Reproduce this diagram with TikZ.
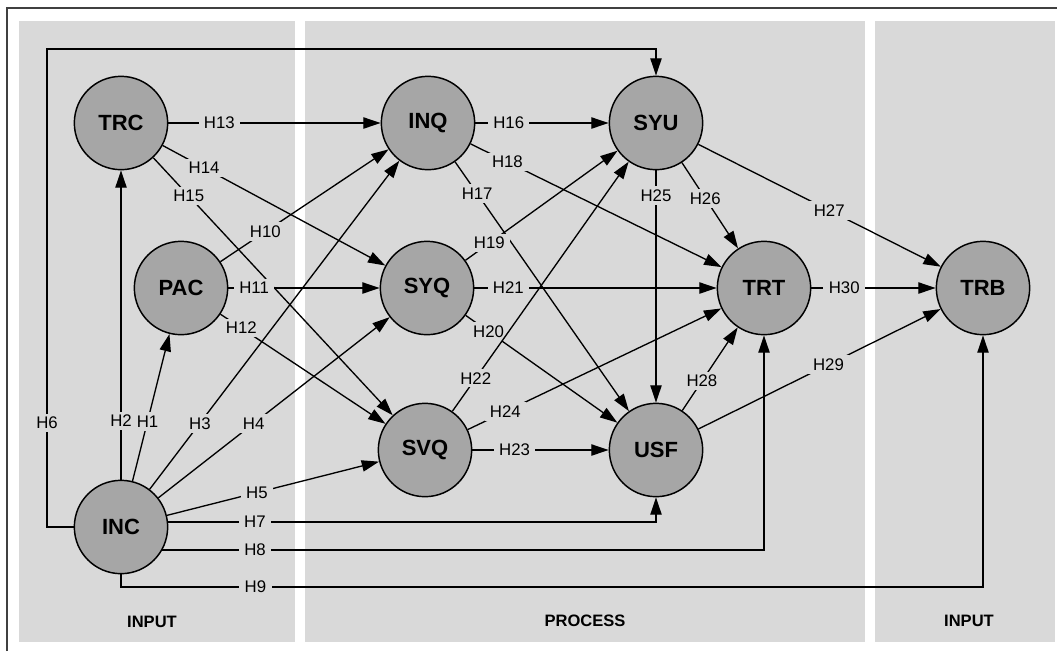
\documentclass[tikz,border=0pt]{standalone}
\usepackage{fontspec}
\setmainfont{Liberation Sans}
\usetikzlibrary{arrows.meta}
\definecolor{panel}{HTML}{D9D9D9}
\definecolor{nodefill}{HTML}{A6A6A6}
\begin{document}
\begin{tikzpicture}[x=0.75pt,y=-0.75pt,
 var/.style={circle,draw=black,line width=1.1pt,fill=nodefill,minimum size=70pt,inner sep=0pt,font=\bfseries\fontsize{16.5}{19}\selectfont},
 hyp/.style={fill=panel,inner xsep=4pt,inner ysep=2.5pt,font=\fontsize{12.6}{15}\selectfont},
 sect/.style={font=\bfseries\fontsize{12.4}{15}\selectfont},
 link/.style={line width=1pt,-{Triangle[length=13pt,width=8.5pt]}},
]
\useasboundingbox (0,0) rectangle (1057,651);
\fill[white] (0,0) rectangle (1057,651);
% panels
\fill[panel] (19,21) rectangle (295,642);
\fill[panel] (305,21) rectangle (865,642);
\fill[panel] (875,21) rectangle (1055,642);
% frame
\draw[line width=0.8pt, black!75] (7,651) -- (7,8) -- (1057,8);
% section labels
\node[sect] (s1) at (152,622) {INPUT};
\node[sect] (s2) at (585,621) {PROCESS};
\node[sect] (s3) at (969,621) {INPUT};
% variables
\node[var] (TRC) at (121,123) {TRC};
\node[var] (PAC) at (181,288) {PAC};
\node[var] (INC) at (121,527) {INC};
\node[var] (INQ) at (428,123) {INQ};
\node[var] (SYQ) at (427,288) {SYQ};
\node[var] (SVQ) at (425,450) {SVQ};
\node[var] (SYU) at (656,123) {SYU};
\node[var] (USF) at (656,450) {USF};
\node[var] (TRT) at (764,288) {TRT};
\node[var] (TRB) at (983,288) {TRB};
\coordinate (c6) at (47,49);
\coordinate (c9) at (983,587);
% hypotheses
\draw[link] (TRC) -- node[hyp,pos=0.24]{H13} (INQ);
\draw[link] (TRC) -- node[hyp,pos=0.186]{H14} (SYQ);
\draw[link] (TRC) -- node[hyp,pos=0.148]{H15} (SVQ);
\draw[link] (PAC) -- node[hyp,pos=0.267]{H10} (INQ);
\draw[link] (PAC) -- node[hyp,pos=0.17]{H11} (SYQ);
\draw[link] (PAC) -- node[hyp,pos=0.126]{H12} (SVQ);
\draw[link] (INC) -- node[hyp,pos=0.405]{H1} (PAC);
\draw[link] (INC) -- node[hyp,pos=0.19]{H2} (TRC);
\draw[link] (INC) -- node[hyp,pos=0.201]{H3} (INQ);
\draw[link] (INC) -- node[hyp,pos=0.412]{H4} (SYQ);
\draw[link] (INC) -- node[hyp,pos=0.424]{H5} (SVQ);
\draw[link] (INC.west) -| node[hyp,pos=0.609]{H6} (c6) -| (SYU.north);
\draw[link] (INC.6) -| node[hyp,pos=0.089]{H7} (USF.south);
\draw[link] (INC.-29.3) -| node[hyp,pos=0.077]{H8} (TRT.south);
\draw[link] (INC.south) |- node[hyp,pos=0.578]{H9} (c9) -- (TRB.south);
\draw[link] (INQ) -- node[hyp,pos=0.25]{H16} (SYU);
\draw[link] (INQ) -- node[hyp,pos=0.147]{H18} (TRT);
\draw[link] (INQ) -- node[hyp,pos=0.127]{H17} (USF);
\draw[link] (SYQ) -- node[hyp,pos=0.157]{H19} (SYU);
\draw[link] (SYQ) -- node[hyp,pos=0.14]{H21} (TRT);
\draw[link] (SYQ) -- node[hyp,pos=0.151]{H20} (USF);
\draw[link] (SVQ) -- node[hyp,pos=0.1325]{H22} (SYU);
\draw[link] (SVQ) -- node[hyp,pos=0.148]{H24} (TRT);
\draw[link] (SVQ) -- node[hyp,pos=0.31]{H23} (USF);
\draw[link] (SYU) -- node[hyp,pos=0.107]{H25} (USF);
\draw[link] (SYU) -- node[hyp,pos=0.415]{H26} (TRT);
\draw[link] (SYU) -- node[hyp,pos=0.54]{H27} (TRB);
\draw[link] (USF) -- node[hyp,pos=0.354]{H28} (TRT);
\draw[link] (USF) -- node[hyp,pos=0.537]{H29} (TRB);
\draw[link] (TRT) -- node[hyp,pos=0.264]{H30} (TRB);
\end{tikzpicture}
\end{document}
